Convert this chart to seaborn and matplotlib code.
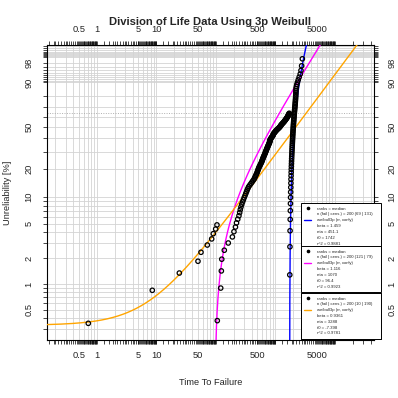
import numpy as np
import pandas as pd
import matplotlib
matplotlib.use("Agg")
import matplotlib.pyplot as plt
import seaborn as sns
from matplotlib.lines import Line2D
from matplotlib.ticker import NullFormatter, NullLocator

# failure times, one list per sub-population
early_times = [0.72, 8.57, 24.4, 50.2, 56.4, 72, 85.3, 90.8, 99.6, 104.7]

mid_times = [106, 121, 124, 126, 139, 162, 190, 202, 214, 223,
             234, 245, 252, 258, 265, 273, 282, 291, 300, 310,
             319, 328, 337, 347, 357, 373, 390, 406, 422, 439,
             450, 460, 471, 481, 492, 500, 508, 516, 524, 532,
             543, 554, 564, 575, 586, 594, 602, 610, 618, 626,
             635, 644, 653, 662, 671, 679, 687, 695, 703, 711,
             720, 728, 737, 745, 754, 763, 772, 781, 790, 800,
             805, 810, 814, 819, 824, 839, 853, 868, 882, 897,
             908, 919, 929, 940, 951, 970, 989, 1009, 1028, 1047,
             1073, 1099, 1125, 1151, 1177, 1196, 1215, 1233, 1252, 1271,
             1297, 1323, 1348, 1374, 1400, 1423, 1446, 1468, 1491, 1514,
             1536, 1557, 1579, 1600, 1622, 1638, 1654, 1670, 1686, 1702,
             1718]

late_times = [1752, 1763, 1772, 1781, 1790, 1798, 1806, 1813, 1820, 1828,
              1835, 1842, 1849, 1856, 1863, 1870, 1877, 1884, 1891, 1898,
              1905, 1912, 1919, 1926, 1933, 1940, 1947, 1954, 1961, 1968,
              1975, 1982, 1990, 1998, 2006, 2014, 2022, 2030, 2039, 2048,
              2057, 2066, 2075, 2085, 2095, 2105, 2116, 2127, 2138, 2150,
              2160, 2170, 2180, 2190, 2198, 2205, 2212, 2219, 2226, 2236,
              2260, 2300, 2360, 2430, 2520, 2620, 2700, 2770, 2850]

# weibull3p fits as printed in the legend boxes (top box first)
fit_colors = ["blue", "magenta", "orange"]
fit_beta = [1.459, 1.116, 0.9361]
fit_eta = [451.1, 1070, 3288]
fit_t0 = [1742, 96.4, -7.398]
fit_r2 = [0.9881, 0.9923, 0.9781]

x_labels = [0.5, 1, 5, 10, 50, 500, 5000]
y_labels = [0.5, 1, 2, 5, 10, 20, 50, 90, 98]
y_grid = ([0.1 * k for k in range(1, 10)] + list(range(1, 10)) +
          list(range(10, 91, 10)) + list(range(91, 100)) +
          [99 + 0.1 * k for k in range(1, 10)])


def wb(pct):
    f = np.asarray(pct, dtype=float) / 100
    return np.log(-np.log(1 - f))


def johnson_ranks(fails, others):
    # median ranks (Benard) with the other groups as suspensions
    items = sorted([(t, 1) for t in fails] + [(t, 0) for t in others])
    n = len(items)
    prev = 0.0
    out = []
    for pos, (t, is_fail) in enumerate(items):
        if is_fail:
            prev += (n + 1 - prev) / (1 + n - pos)
            out.append((t, (prev - 0.3) / (n + 0.4)))
    return out


groups = [late_times, mid_times, early_times]
rows = []
for i, g in enumerate(groups):
    others = [t for j, h in enumerate(groups) if j != i for t in h]
    for t, f in johnson_ranks(g, others):
        rows.append({"time": t, "w": np.log(-np.log(1 - f)), "fit": i})
pts = pd.DataFrame(rows)
n_total = len(pts)

sns.set_style("white")
plt.rcParams["font.family"] = ["Liberation Sans", "DejaVu Sans"]

fig = plt.figure(figsize=(3.98, 3.98), dpi=100)
ax = fig.add_axes([46.7 / 398, 58 / 398, 327.3 / 398, 295 / 398])
ax.set_xscale("log")
xlo, xhi = 0.144, 45600
ax.set_xlim(xlo, xhi)
ax.set_ylim(wb(0.223), wb(99.82))

# fitted lines
for c, b, e, t0 in zip(fit_colors, fit_beta, fit_eta, fit_t0):
    t = np.unique(np.concatenate([t0 + np.logspace(-4, 5, 1500),
                                  np.logspace(-2, 5, 800)]))
    t = t[(t > max(t0, 0)) & (t < xhi * 1.1)]
    curve = pd.DataFrame({"time": t, "w": b * np.log((t - t0) / e)})
    sns.lineplot(data=curve, x="time", y="w", color=c, lw=1.0,
                 estimator=None, sort=False, ax=ax, zorder=3)

sns.scatterplot(data=pts, x="time", y="w", marker="o", s=10,
                facecolors="none", edgecolors="black", linewidth=0.9,
                ax=ax, legend=False, zorder=4)

# grid, ticks
decades = [10.0 ** d for d in range(-1, 5)]
x_grid = [k * d for d in decades for k in range(1, 10) if xlo <= k * d <= xhi]
ax.set_xticks(x_grid)
ax.set_xticklabels(["{:g}".format(v) if v in x_labels else "" for v in x_grid])
x_minor = [k / 100 * d for d in decades
           for k in list(range(10, 50, 3)) + list(range(50, 100, 2))]
ax.set_xticks([v for v in x_minor if xlo <= v <= xhi], minor=True)
ax.xaxis.set_minor_formatter(NullFormatter())

yg = [p for p in y_grid if 0.223 <= p <= 99.82]
ax.set_yticks(wb(yg))
ax.set_yticklabels(["{:g}".format(round(p, 1)) if round(p, 1) in y_labels else "" for p in yg])
ax.yaxis.set_minor_locator(NullLocator())

ax.grid(True, which="major", color="#d3d3d3", lw=0.6)
ax.axhline(wb(63.2), color="#b0b0b0", lw=0.7, ls=(0, (1, 1.5)), zorder=1)

ax.tick_params(axis="both", which="both", direction="out", length=3.2, width=0.5,
               color="black", labelsize=6.7, top=True, right=True,
               labeltop=True, labelright=True, bottom=True, left=True)
ax.tick_params(axis="x", pad=5.0)
ax.tick_params(axis="y", labelrotation=90, pad=6.5)
for lab in ax.get_yticklabels():
    lab.set_va("center")
for sp in ax.spines.values():
    sp.set_color("black")
    sp.set_linewidth(0.8)

ax.set_xlabel("Time To Failure", fontsize=6.7, labelpad=13)
ax.set_ylabel("Unreliability [%]", fontsize=6.7, labelpad=9)
ax.text(0.5, 1 + 23 / 295, "Division of Life Data Using 3p Weibull",
        transform=ax.transAxes, ha="center", va="center",
        fontsize=8.1, fontweight="bold")

# legend boxes
tops = [0.464, 0.318, 0.159]
for i, c in enumerate(fit_colors):
    nf = int((pts["fit"] == i).sum())
    handles = [Line2D([], [], marker="o", color="black", ls="none", markersize=1.6),
               Line2D([], [], ls="none"),
               Line2D([], [], color=c, lw=1.0)] + [Line2D([], [], ls="none")] * 4
    labels = ["ranks = median",
              "n (fail | cens.) = {} ({} | {})".format(n_total, nf, n_total - nf),
              "weibull3p (rr, xonly)",
              "beta = {:g}".format(fit_beta[i]),
              "eta = {:g}".format(fit_eta[i]),
              "t0 = {:g}".format(fit_t0[i]),
              "r^2 = {:g}".format(fit_r2[i])]
    leg = ax.legend(handles, labels, loc="upper left",
                    bbox_to_anchor=(0.777, tops[i], 0.244, 0), mode="expand",
                    fontsize=3.1, labelspacing=0.42, borderpad=0.8,
                    handlelength=1.6, handletextpad=1.2, borderaxespad=0,
                    fancybox=False, framealpha=1, edgecolor="black")
    leg.get_frame().set_linewidth(0.7)
    leg.set_zorder(6)
    ax.add_artist(leg)

fig.savefig("out.png", dpi=100)
